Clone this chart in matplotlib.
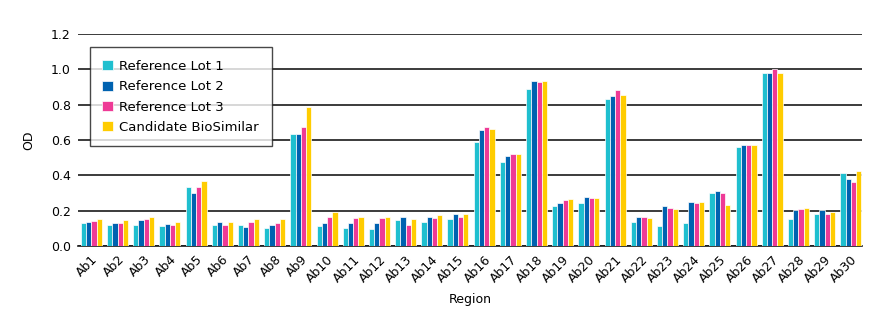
import numpy as np
import matplotlib
matplotlib.use('Agg')
import matplotlib.pyplot as plt

# data
regions = ['Ab%d' % i for i in range(1, 31)]
lot1 = [0.130, 0.121, 0.121, 0.115, 0.335, 0.121, 0.121, 0.104, 0.637, 0.115,
        0.104, 0.098, 0.147, 0.136, 0.153, 0.590, 0.473, 0.887, 0.227, 0.242,
        0.834, 0.136, 0.113, 0.130, 0.302, 0.563, 0.979, 0.151, 0.180, 0.414]
lot2 = [0.136, 0.130, 0.147, 0.127, 0.302, 0.136, 0.108, 0.121, 0.637, 0.130,
        0.130, 0.130, 0.163, 0.163, 0.180, 0.656, 0.510, 0.936, 0.242, 0.280,
        0.849, 0.163, 0.227, 0.248, 0.312, 0.571, 0.979, 0.202, 0.202, 0.380]
lot3 = [0.142, 0.130, 0.153, 0.121, 0.335, 0.121, 0.136, 0.130, 0.673, 0.163,
        0.157, 0.157, 0.121, 0.157, 0.163, 0.673, 0.522, 0.930, 0.259, 0.270,
        0.883, 0.163, 0.216, 0.242, 0.302, 0.571, 1.002, 0.208, 0.183, 0.361]
biosim = [0.153, 0.147, 0.163, 0.136, 0.367, 0.136, 0.153, 0.153, 0.786, 0.195,
          0.163, 0.163, 0.153, 0.174, 0.180, 0.662, 0.522, 0.936, 0.265, 0.274,
          0.854, 0.157, 0.208, 0.248, 0.231, 0.571, 0.979, 0.216, 0.193, 0.425]
series_names = ['Reference Lot 1', 'Reference Lot 2', 'Reference Lot 3', 'Candidate BioSimilar']
colors = ['#1fbfcf', '#0062b0', '#ee3a96', '#ffcc00']

fig = plt.figure(figsize=(8.83, 3.28), dpi=100)
ax = fig.add_axes([0.088, 0.25, 0.888, 0.646])

x = np.arange(len(regions))
width = 0.2
for i, (vals, name, c) in enumerate(zip([lot1, lot2, lot3, biosim], series_names, colors)):
    ax.bar(x - 0.3 + i * width, vals, width, color=c, edgecolor='white', linewidth=0.5,
           label=name, zorder=3)

ax.set_ylim(0, 1.2)
ax.set_xlim(-0.52, 29.42)
ax.set_yticks(np.arange(0, 1.21, 0.2))
ax.set_yticklabels(['%.1f' % v for v in np.arange(0, 1.21, 0.2)], fontsize=9)
ax.yaxis.grid(True, color='#1a1a1a', linewidth=1.2, zorder=0)
ax.set_xticks(x)
ax.set_xticklabels(regions, rotation=45, ha='right', rotation_mode='anchor', fontsize=9)
ax.tick_params(length=0, pad=5)
for s in ['left', 'right', 'top']:
    ax.spines[s].set_visible(False)
ax.spines['bottom'].set_color('#1a1a1a')
ax.spines['bottom'].set_linewidth(1.2)
ax.set_ylabel('OD', fontsize=9, labelpad=11)
ax.set_xlabel('Region', fontsize=9, labelpad=6)

leg = ax.legend(loc='upper left', bbox_to_anchor=(0.007, 0.968), fontsize=9.5, frameon=True,
                fancybox=False, edgecolor='#1a1a1a', handlelength=0.8, handleheight=0.8,
                borderpad=0.95, labelspacing=0.55, handletextpad=0.5)
leg.get_frame().set_linewidth(1)

plt.savefig('out.png')
